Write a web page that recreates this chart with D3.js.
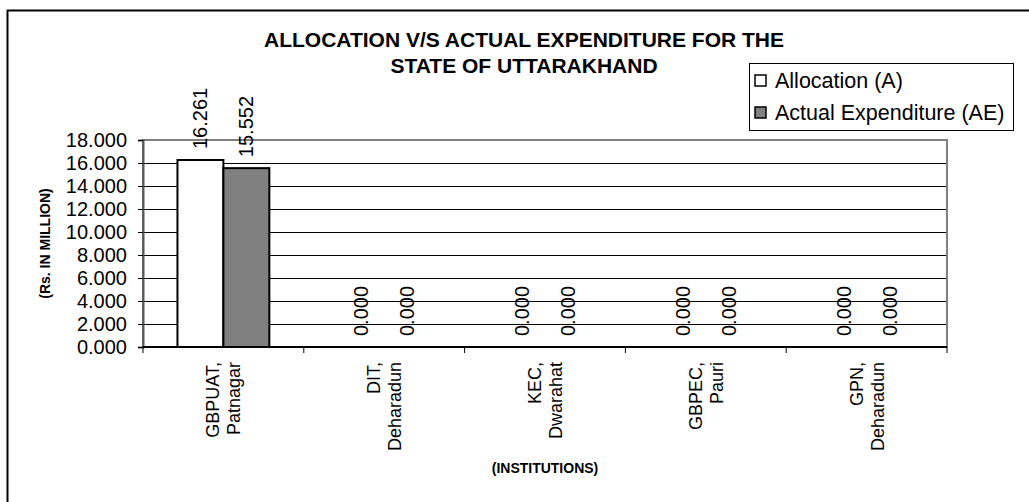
<!DOCTYPE html>
<html>
<head>
<meta charset="utf-8">
<script src="https://cdn.jsdelivr.net/npm/d3@7"></script>
<style>
  html, body { margin: 0; padding: 0; background: #fff; }
  svg { display: block; font-family: "Liberation Sans", Arial, sans-serif; }
</style>
</head>
<body>
<div id="chart"></div>
<script>
// data
const institutions = ["GBPUAT, Patnagar", "DIT, Deharadun", "KEC, Dwarahat", "GBPEC, Pauri", "GPN, Deharadun"];
const allocation = [16.261, 0, 0, 0, 0];
const actualExpenditure = [15.552, 0, 0, 0, 0];
const seriesNames = ["Allocation (A)", "Actual Expenditure (AE)"];
const yTicks = [0, 2, 4, 6, 8, 10, 12, 14, 16, 18];

const width = 1029, height = 502;
const plot = { left: 143, right: 947, top: 140, bottom: 347 };
const fills = ["#ffffff", "#808080"];

const svg = d3.select("#chart").append("svg")
  .attr("width", width)
  .attr("height", height);

// outer frame (only top and left edges show)
svg.append("line").attr("x1", 7).attr("x2", width).attr("y1", 10.5).attr("y2", 10.5)
  .attr("stroke", "#000").attr("stroke-width", 2);
svg.append("line").attr("x1", 7.5).attr("x2", 7.5).attr("y1", 10).attr("y2", height)
  .attr("stroke", "#000").attr("stroke-width", 2);

const x0 = d3.scaleBand()
  .domain(institutions)
  .range([plot.left, plot.right])
  .padding(0);

const step = x0.step();
const x1 = d3.scaleBand()
  .domain(seriesNames)
  .range([step * 0.75 / 3.5, step * 2.75 / 3.5]);

const y = d3.scaleLinear()
  .domain([0, 18])
  .range([plot.bottom, plot.top]);

// gridlines
svg.append("g")
  .selectAll("line")
  .data(yTicks.slice(1, -1))
  .enter()
  .append("line")
  .attr("x1", plot.left).attr("x2", plot.right)
  .attr("y1", d => Math.round(y(d)) + 0.5).attr("y2", d => Math.round(y(d)) + 0.5)
  .attr("stroke", "#000").attr("stroke-width", 1);

// plot area border (grey)
svg.append("rect")
  .attr("x", plot.left).attr("y", plot.top)
  .attr("width", plot.right - plot.left).attr("height", plot.bottom - plot.top)
  .attr("fill", "none").attr("stroke", "#808080").attr("stroke-width", 2);

// y axis
const yAxis = svg.append("g")
  .attr("transform", `translate(${plot.left},0)`)
  .call(d3.axisLeft(y).tickValues(yTicks).tickFormat(d3.format(".3f")).tickSizeOuter(0).tickSize(5).tickPadding(11));
yAxis.select(".domain").attr("stroke", "#555").attr("stroke-width", 2);
yAxis.selectAll(".tick line").attr("stroke", "#000");
yAxis.selectAll(".tick text")
  .attr("font-size", 20).attr("fill", "#000")
  .attr("font-family", "Liberation Sans, Arial, sans-serif");

// x axis (ticks between categories)
const xAxis = svg.append("g")
  .attr("transform", `translate(0,${plot.bottom})`);
xAxis.append("line")
  .attr("x1", plot.left).attr("x2", plot.right)
  .attr("stroke", "#000").attr("stroke-width", 2);
xAxis.selectAll("line.tk")
  .data(institutions.concat(["end"]))
  .enter()
  .append("line")
  .attr("class", "tk")
  .attr("x1", (d, i) => i < institutions.length ? x0(d) : plot.right)
  .attr("x2", (d, i) => i < institutions.length ? x0(d) : plot.right)
  .attr("y1", 0).attr("y2", 6)
  .attr("stroke", "#000").attr("stroke-width", 1);

// category labels, rotated, two lines each
const catLabels = svg.append("g")
  .selectAll("text")
  .data(institutions)
  .enter()
  .append("text")
  .attr("transform", d => `translate(${x0(d) + step / 2},${plot.bottom + 15}) rotate(-90)`)
  .attr("text-anchor", "end")
  .attr("font-size", 18)
  .attr("fill", "#000");

catLabels.each(function (d) {
  const parts = d.split(" ");
  const t = d3.select(this);
  t.append("tspan").attr("x", 0).attr("y", -4).text(parts[0]);
  t.append("tspan").attr("x", 0).attr("y", 17).text(parts[1]);
});

// bars
const groups = svg.append("g")
  .selectAll("g")
  .data(institutions)
  .enter()
  .append("g")
  .attr("transform", d => `translate(${x0(d)},0)`);

const barData = (d, i) => [
  { name: seriesNames[0], value: allocation[i], fill: fills[0] },
  { name: seriesNames[1], value: actualExpenditure[i], fill: fills[1] }
];

groups.selectAll("rect")
  .data(barData)
  .enter()
  .append("rect")
  .attr("x", d => x1(d.name))
  .attr("y", d => y(d.value))
  .attr("width", x1.bandwidth())
  .attr("height", d => y(0) - y(d.value))
  .attr("fill", d => d.fill)
  .attr("stroke", "#000")
  .attr("stroke-width", 2);

// value labels, rotated
groups.selectAll("text")
  .data(barData)
  .enter()
  .append("text")
  .attr("transform", d => `translate(${x1(d.name) + x1.bandwidth() / 2},${y(d.value) - 11}) rotate(-90)`)
  .attr("dy", "0.35em")
  .attr("text-anchor", "start")
  .attr("font-size", 20)
  .attr("fill", "#000")
  .text(d => d3.format(".3f")(d.value));

// title
const title = svg.append("text")
  .attr("x", 524)
  .attr("text-anchor", "middle")
  .attr("font-size", 21)
  .attr("font-weight", "bold")
  .attr("fill", "#000");
title.append("tspan").attr("x", 524).attr("y", 47).text("ALLOCATION V/S ACTUAL EXPENDITURE FOR THE");
title.append("tspan").attr("x", 524).attr("y", 73).text("STATE OF UTTARAKHAND");

// axis titles
svg.append("text")
  .attr("transform", `translate(50,${(plot.top + plot.bottom) / 2}) rotate(-90)`)
  .attr("text-anchor", "middle")
  .attr("font-size", 14)
  .attr("font-weight", "bold")
  .text("(Rs. IN MILLION)");

svg.append("text")
  .attr("x", (plot.left + plot.right) / 2)
  .attr("y", 473)
  .attr("text-anchor", "middle")
  .attr("font-size", 14)
  .attr("font-weight", "bold")
  .text("(INSTITUTIONS)");

// legend
const legend = svg.append("g").attr("transform", "translate(749,63)");
legend.append("rect")
  .attr("x", 0.5).attr("y", 0.5)
  .attr("width", 264).attr("height", 67)
  .attr("fill", "#fff").attr("stroke", "#000").attr("stroke-width", 1);

const items = legend.selectAll("g.item")
  .data(seriesNames)
  .enter()
  .append("g")
  .attr("class", "item")
  .attr("transform", (d, i) => `translate(6,${12 + i * 32})`);

items.append("rect")
  .attr("width", 11).attr("height", 11)
  .attr("fill", (d, i) => fills[i])
  .attr("stroke", "#000").attr("stroke-width", 1.5);

items.append("text")
  .attr("x", 20)
  .attr("y", 13)
  .attr("font-size", 21.5)
  .attr("fill", "#000")
  .text(d => d);
</script>
</body>
</html>
